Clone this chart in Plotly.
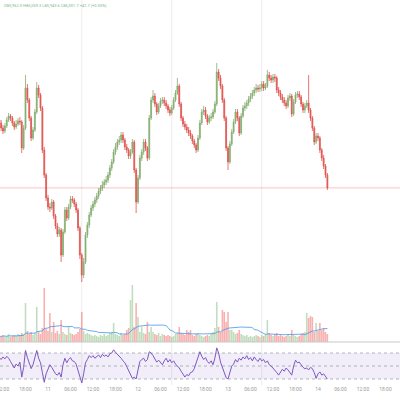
import pandas as pd
import plotly.graph_objects as go

# ---- data (30-minute candles) ----
start_time = "2025-03-10 11:00"
first_open = 87360

closes = [
    87300, 87200, 87140, 87240, 87360, 87440, 87400, 87300, 87220, 87280,
    87340, 87320, 86800, 87200, 88000, 87760, 87400, 87000, 87160, 87520,
    88000, 87860, 87600, 86760, 86260, 85800, 85620, 85600, 85720, 85440,
    85240, 85080, 85160, 84660, 85120, 85560, 85400, 85620, 85780, 85760,
    85680, 85560, 85200, 84660, 84260, 84520, 85060, 85260, 85460, 85600,
    85680, 85760, 85840, 85940, 86000, 86060, 86120, 86160, 86260, 86400,
    86520, 86720, 86820, 86920, 86960, 87060, 86960, 86820, 86760, 86640,
    86720, 86920, 86360, 85720, 86200, 86600, 86720, 86920, 86800, 86600,
    87400, 87760, 87840, 87680, 87520, 87640, 87740, 87760, 87700, 87640,
    87560, 87500, 87600, 87760, 87900, 88040, 87680, 87400, 87280, 87220,
    87160, 87100, 87040, 86940, 86860, 86760, 87000, 87300, 87520, 87560,
    87440, 87320, 87400, 87420, 87520, 87680, 88320, 88200, 88040, 87760,
    87400, 86800, 86520, 86880, 87120, 87320, 87520, 87400, 87100, 87440,
    87600, 87640, 87700, 87780, 87840, 87900, 87960, 88000, 87980, 88000,
    88080, 88000, 88040, 88260, 88200, 88160, 88220, 88200, 87960, 87900,
    87820, 87760, 87700, 87640, 87800, 87840, 87480, 87720, 87860, 87880,
    87820, 87680, 87560, 87640, 87700, 87560, 87400, 87200, 86920, 87040,
    87000, 86760, 86600, 86440, 86260, 86001.7,
]

highs = [
    87420, 87360, 87260, 87300, 87420, 87500, 87480, 87440, 87340, 87360,
    87400, 87420, 87360, 87260, 88260, 88080, 87800, 87440, 87220, 87580,
    88120, 88060, 87900, 87640, 86820, 86300, 85860, 85700, 85780, 85760,
    85480, 85300, 85220, 85200, 85180, 85620, 85620, 85680, 85840, 85840,
    85800, 85720, 85600, 85240, 84700, 84600, 85120, 85320, 85520, 85660,
    85740, 85820, 85900, 86000, 86060, 86140, 86180, 86240, 86320, 86460,
    86580, 86780, 86900, 86980, 87040, 87120, 87120, 87000, 86880, 86800,
    86780, 86980, 86960, 86400, 86260, 86660, 86780, 86980, 86980, 86840,
    87460, 87820, 87960, 87900, 87720, 87700, 87800, 87820, 87820, 87760,
    87680, 87620, 87660, 87820, 87960, 88200, 88080, 87720, 87440, 87340,
    87280, 87220, 87160, 87080, 86980, 86900, 87060, 87360, 87580, 87640,
    87620, 87480, 87460, 87500, 87580, 87740, 88500, 88380, 88260, 88080,
    87800, 87440, 86840, 86940, 87180, 87380, 87580, 87580, 87440, 87500,
    87660, 87720, 87760, 87840, 87900, 87960, 88020, 88080, 88060, 88080,
    88140, 88140, 88100, 88360, 88320, 88260, 88280, 88280, 88240, 88020,
    87960, 87880, 87820, 87760, 87860, 87900, 87880, 87780, 87920, 87940,
    87940, 87860, 87720, 87700, 87760, 88260, 87600, 87440, 87240, 87100,
    87100, 87040, 86800, 86660, 86480, 86300,
]

lows = [
    87240, 87140, 87080, 87100, 87200, 87320, 87340, 87240, 87160, 87180,
    87240, 87260, 86700, 86760, 87160, 87700, 87340, 86940, 86960, 87120,
    87480, 87800, 87540, 86700, 86200, 85740, 85560, 85520, 85560, 85380,
    85180, 85020, 85020, 84520, 84620, 85080, 85340, 85360, 85580, 85700,
    85620, 85500, 85140, 84580, 84120, 84200, 84480, 85000, 85200, 85420,
    85540, 85620, 85700, 85780, 85880, 85940, 86000, 86060, 86100, 86200,
    86340, 86480, 86660, 86760, 86860, 86900, 86900, 86760, 86700, 86580,
    86580, 86680, 86300, 85500, 85680, 86160, 86540, 86660, 86740, 86540,
    86560, 87360, 87700, 87620, 87460, 87480, 87600, 87680, 87640, 87580,
    87500, 87440, 87460, 87560, 87720, 87860, 87620, 87340, 87220, 87160,
    87100, 87040, 86980, 86880, 86800, 86700, 86720, 86960, 87260, 87460,
    87380, 87260, 87280, 87340, 87380, 87480, 87640, 88140, 87980, 87700,
    87340, 86740, 86360, 86480, 86840, 87080, 87280, 87340, 87040, 87060,
    87400, 87540, 87580, 87640, 87720, 87780, 87840, 87900, 87920, 87920,
    87940, 87940, 87960, 88000, 88140, 88100, 88100, 88120, 87900, 87840,
    87760, 87700, 87640, 87580, 87600, 87740, 87420, 87440, 87680, 87800,
    87760, 87620, 87500, 87500, 87600, 87500, 87340, 87140, 86860, 86880,
    86940, 86700, 86540, 86380, 86200, 85960,
]

volumes = [
    60, 50, 70, 50, 60, 80, 50, 60, 70, 60,
    80, 70, 90, 80, 390, 110, 80, 100, 70, 90,
    350, 100, 80, 140, 540, 130, 110, 290, 100, 200,
    90, 110, 80, 220, 100, 80, 70, 150, 90, 80,
    70, 80, 100, 130, 300, 110, 80, 90, 80, 70,
    60, 70, 60, 50, 70, 60, 80, 60, 70, 90,
    100, 190, 80, 70, 60, 90, 70, 80, 120, 140,
    420, 570, 150, 390, 250, 100, 150, 90, 80, 200,
    100, 150, 100, 80, 70, 90, 60, 80, 70, 60,
    70, 60, 50, 60, 80, 90, 150, 90, 80, 70,
    120, 100, 120, 70, 60, 80, 90, 70, 60, 50,
    60, 70, 60, 80, 100, 140, 400, 150, 100, 320,
    300, 200, 300, 120, 120, 100, 80, 90, 120, 80,
    70, 60, 70, 50, 60, 50, 60, 70, 60, 50,
    70, 60, 80, 220, 90, 70, 60, 80, 90, 60,
    70, 60, 50, 60, 80, 60, 120, 70, 60, 50,
    60, 80, 90, 100, 290, 240, 260, 250, 100, 190,
    110, 190, 120, 140, 100, 80,
]

rsi_values = [
    63, 60, 64, 61, 65, 62, 57, 52, 47, 53,
    50, 56, 33, 48, 74, 63, 56, 46, 52, 64,
    74, 62, 55, 40, 25, 38, 46, 52, 48, 42,
    38, 36, 40, 33, 52, 62, 55, 60, 63, 58,
    57, 53, 42, 32, 24, 38, 55, 60, 66, 63,
    66, 62, 65, 67, 63, 68, 65, 67, 64, 69,
    70, 75, 71, 68, 66, 62, 58, 55, 49, 42,
    36, 31, 33, 30, 44, 57, 60, 62, 57, 60,
    72, 70, 66, 61, 56, 59, 55, 52, 58, 62,
    56, 60, 55, 58, 53, 50, 47, 42, 38, 33,
    37, 35, 40, 41, 46, 55, 66, 72, 65, 60,
    63, 57, 54, 58, 52, 62, 78, 70, 56, 48,
    40, 32, 30, 41, 50, 53, 60, 56, 62, 59,
    64, 61, 66, 60, 63, 58, 64, 60, 57, 62,
    58, 60, 55, 58, 52, 50, 47, 44, 40, 36,
    40, 45, 42, 47, 44, 40, 36, 50, 59, 55,
    56, 52, 48, 46, 47, 44, 48, 46, 40, 31,
    38, 41, 36, 38, 33, 30,
]

session_marks = ["2025-03-11 09:00", "2025-03-12 09:00", "2025-03-13 09:00"]

tick_vals = [
    "2025-03-10 12:00", "2025-03-10 18:00", "2025-03-11 00:00", "2025-03-11 06:00",
    "2025-03-11 12:00", "2025-03-11 18:00", "2025-03-12 00:00", "2025-03-12 06:00",
    "2025-03-12 12:00", "2025-03-12 18:00", "2025-03-13 00:00", "2025-03-13 06:00",
    "2025-03-13 12:00", "2025-03-13 18:00", "2025-03-14 00:00", "2025-03-14 06:00",
    "2025-03-14 12:00", "2025-03-14 18:00",
]
tick_text = [
    "12:00", "18:00", "11", "06:00", "12:00", "18:00", "12", "06:00", "12:00",
    "18:00", "13", "06:00", "12:00", "18:00", "14", "06:00", "12:00", "18:00",
]

header_text = "O85,962.0 H86,059.3 L85,943.6 C86,001.7 +41.7 (+0.05%)"

# ---- derived ----
times = pd.date_range(start_time, periods=len(closes), freq="30min")
opens = [first_open] + closes[:-1]
up = [c >= o for o, c in zip(opens, closes)]
vol_ma = pd.Series(volumes, dtype=float).rolling(20, min_periods=1).mean()

UP = "#84ad6e"
DOWN = "#e0534f"
VOL_UP = "rgba(120,180,110,0.45)"
VOL_DOWN = "rgba(239,83,80,0.45)"

fig = go.Figure()

fig.add_trace(go.Bar(
    x=times, y=volumes, yaxis="y2",
    marker=dict(color=[VOL_UP if u else VOL_DOWN for u in up], line=dict(width=0)),
    showlegend=False, hoverinfo="skip",
))
fig.add_trace(go.Scatter(
    x=times, y=vol_ma, yaxis="y2", mode="lines",
    line=dict(color="rgba(70,150,230,0.8)", width=1), showlegend=False,
))
fig.add_trace(go.Candlestick(
    x=times, open=opens, high=highs, low=lows, close=closes,
    increasing=dict(line=dict(color=UP, width=0.8), fillcolor=UP),
    decreasing=dict(line=dict(color=DOWN, width=0.8), fillcolor=DOWN),
    showlegend=False,
))
fig.add_trace(go.Scatter(
    x=times, y=rsi_values, yaxis="y3", mode="lines",
    line=dict(color="#7e57c2", width=1), showlegend=False,
))

shapes = []
for t in session_marks:
    shapes.append(dict(type="line", xref="x", yref="paper", x0=t, x1=t, y0=0, y1=1,
                       line=dict(color="#ececec", width=1), layer="below"))
shapes.append(dict(type="line", xref="paper", yref="y", x0=0, x1=1,
                   y0=closes[-1], y1=closes[-1],
                   line=dict(color="rgba(239,83,80,0.35)", width=1)))
shapes.append(dict(type="line", xref="paper", yref="paper", x0=0, x1=1,
                   y0=0.1117, y1=0.1117, line=dict(color="#c8c8c8", width=1)))
shapes.append(dict(type="rect", xref="paper", yref="y3", x0=0, x1=1, y0=30, y1=70,
                   fillcolor="rgba(126,87,194,0.10)", line=dict(width=0), layer="below"))
for lvl in (70, 50, 30):
    shapes.append(dict(type="line", xref="paper", yref="y3", x0=0, x1=1, y0=lvl, y1=lvl,
                       line=dict(color="rgba(120,123,134,0.55)", width=1, dash="dot")))

fig.update_layout(
    width=400, height=400,
    margin=dict(l=0, r=0, t=0, b=15, autoexpand=False),
    paper_bgcolor="white", plot_bgcolor="white",
    bargap=0.15,
    shapes=shapes,
    xaxis=dict(
        range=["2025-03-10 11:12", "2025-03-14 21:52"],
        rangeslider=dict(visible=False), automargin=False,
        anchor="y3", showgrid=False, zeroline=False, showline=False,
        tickmode="array", tickvals=tick_vals, ticktext=tick_text,
        tickfont=dict(family="Roboto", size=5, color="#9a9a9a"),
        ticks="", ticklabeloverflow="allow",
    ),
    yaxis=dict(domain=[0.1117, 1], range=[82920, 89760], visible=False, automargin=False),
    yaxis2=dict(overlaying="y", range=[0, 3420], visible=False, automargin=False),
    yaxis3=dict(domain=[0, 0.109], range=[20.8, 85.4], visible=False, automargin=False),
    annotations=[dict(
        text=header_text, xref="paper", yref="paper", x=0.004, y=0.997,
        xanchor="left", yanchor="top", showarrow=False,
        font=dict(family="Roboto", size=4, color="#7fb58c"),
    )],
)

fig.write_html(
    "out.html",
    config={"displayModeBar": False},
    post_script="document.body.style.margin='0';document.body.style.overflow='hidden';",
)
